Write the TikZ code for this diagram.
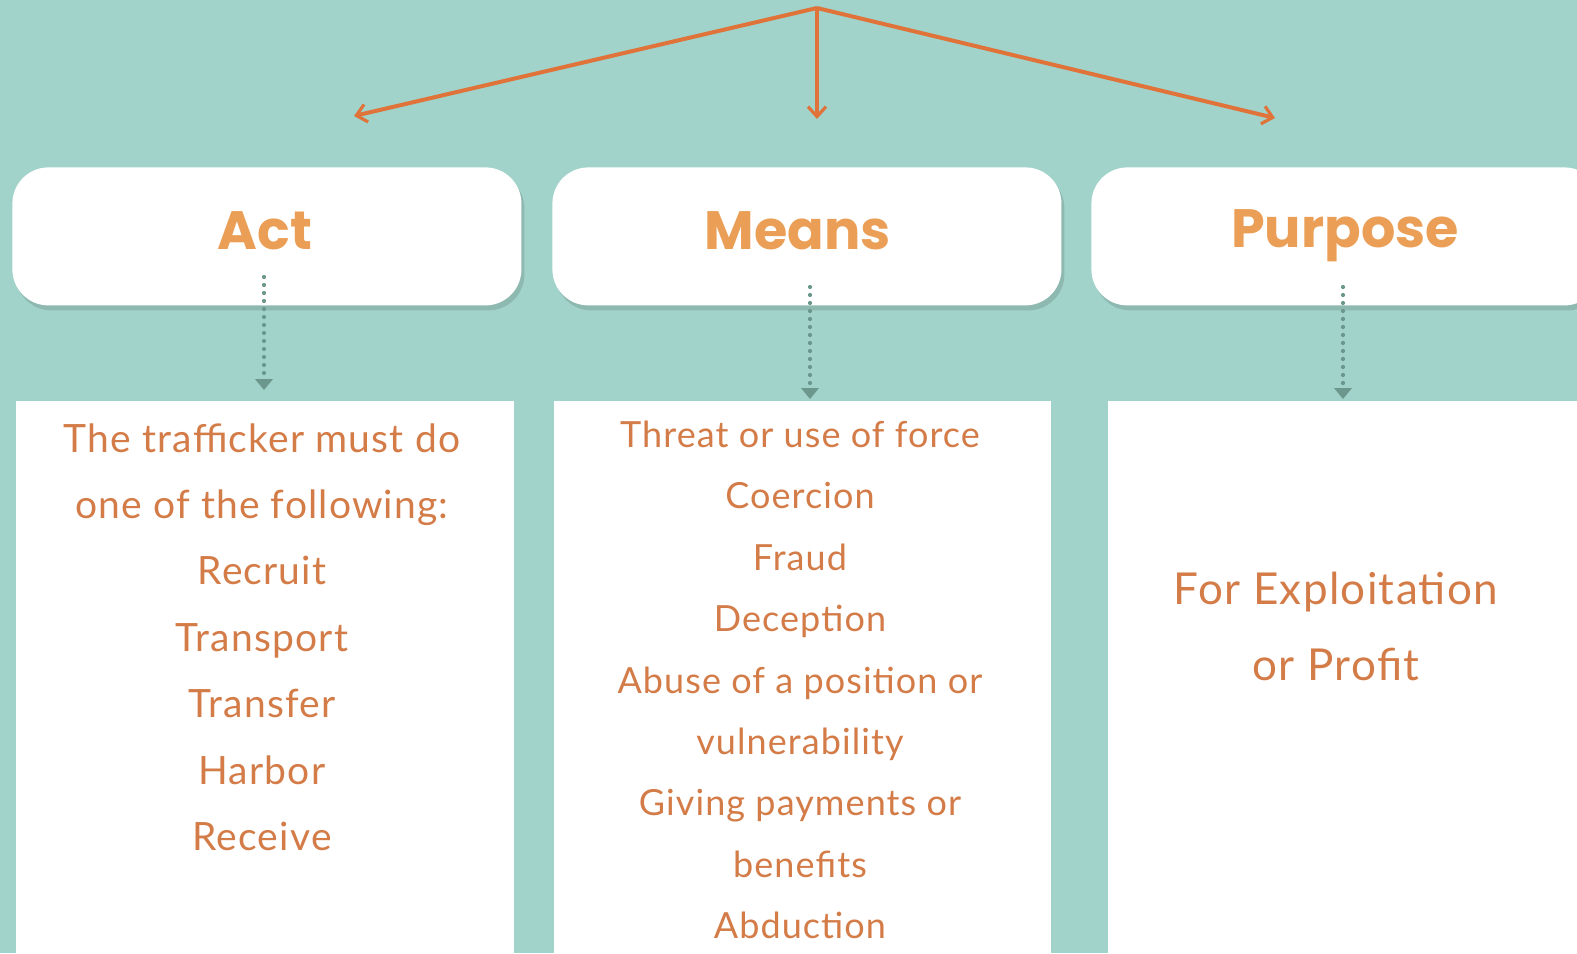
\documentclass[tikz,border=0pt]{standalone}
\usepackage{fontspec}
\setmainfont{Lato}[LetterSpace=3]
\newfontfamily\headfont{Poppins}
\usetikzlibrary{arrows.meta,shadows,calc}
\definecolor{bg}{HTML}{A2D3CA}
\definecolor{headtxt}{HTML}{EB9E55}
\definecolor{bodytxt}{HTML}{D47C48}
\definecolor{arr}{HTML}{E0733A}
\definecolor{dots}{HTML}{6B978D}
\begin{document}
\begin{tikzpicture}[x=0.5pt,y=-0.5pt,
  headbox/.style={fill=white, rounded corners=18pt, minimum width=254.5pt, minimum height=69pt,
    drop shadow={shadow xshift=1.5pt, shadow yshift=-2.5pt, opacity=0.12, fill=black},
    inner sep=0pt},
  headtext/.style={text=headtxt, font=\headfont\bfseries\fontsize{27}{32}\selectfont, inner sep=0pt, anchor=base},
  bodybox/.style={fill=white, inner sep=0pt},
  bodytext/.style={text=bodytxt, align=center, inner sep=0pt},
  mainarrow/.style={draw=arr, line width=2pt, -{Straight Barb[length=5pt,width=9pt,line width=1.6pt]}},
  dotarrow/.style={draw=dots, line width=2.1pt, line cap=round, dash pattern=on 0pt off 4pt,
    -{Triangle[length=5.5pt,width=9pt,fill=dots,line cap=butt,line width=0pt]}}
]
\useasboundingbox (0,0) rectangle (1577,953);
\clip (0,0) rectangle (1577,953);
\fill[bg] (0,0) rectangle (1577,953);

% content boxes
\node[bodybox, minimum width=249pt, minimum height=300pt, anchor=north west] (actbody) at (16,401) {};
\node[bodybox, minimum width=248.5pt, minimum height=300pt, anchor=north west] (meansbody) at (554,401) {};
\node[bodybox, minimum width=250pt, minimum height=300pt, anchor=north west] (purpbody) at (1108,401) {};

% header boxes
\node[headbox, anchor=north west] (acthead) at (12,167) {};
\node[headbox, anchor=north west] (meanshead) at (552,167) {};
\node[headbox, anchor=north west] (purphead) at (1091,167) {};
\node[headtext] (actlbl) at (265,249) {Act};
\node[headtext] (meanslbl) at (798,249) {Means};
\node[headtext] (purplbl) at (1345,247) {Purpose};

% top arrows
\coordinate (top) at (817,8);
\coordinate (endA) at (354,116);
\coordinate (endM) at (817,119);
\coordinate (endP) at (1275,118);
\draw[mainarrow] (top) -- (endA);
\draw[mainarrow, line width=1.6pt] (top) -- (endM);
\draw[mainarrow] (top) -- (endP);

% dotted arrows
\coordinate (dA1) at (264,277);
\coordinate (dA2) at (264,390);
\coordinate (dM1) at (810,287);
\coordinate (dM2) at (810,399);
\coordinate (dP1) at (1343,287);
\coordinate (dP2) at (1343,399);
\draw[dotarrow] (dA1) -- (dA2);
\draw[dotarrow] (dM1) -- (dM2);
\draw[dotarrow] (dP1) -- (dP2);

% body texts
\node[bodytext, font=\fontsize{19.5}{33.2}\selectfont] (acttxt) at (262,637)
  {The trafficker must do\\one of the following:\\Recruit\\Transport\\Transfer\\Harbor\\Receive};
\node[bodytext, font=\fontsize{18}{30.7}\selectfont] (meanstxt) at (800,680)
  {Threat or use of force\\Coercion\\Fraud\\Deception\\Abuse of a position or\\vulnerability\\Giving payments or\\benefits\\Abduction};
\node[bodytext, font=\fontsize{22}{38}\selectfont] (purptxt) at (1336,626)
  {For Exploitation\\or Profit};
\end{tikzpicture}
\end{document}
